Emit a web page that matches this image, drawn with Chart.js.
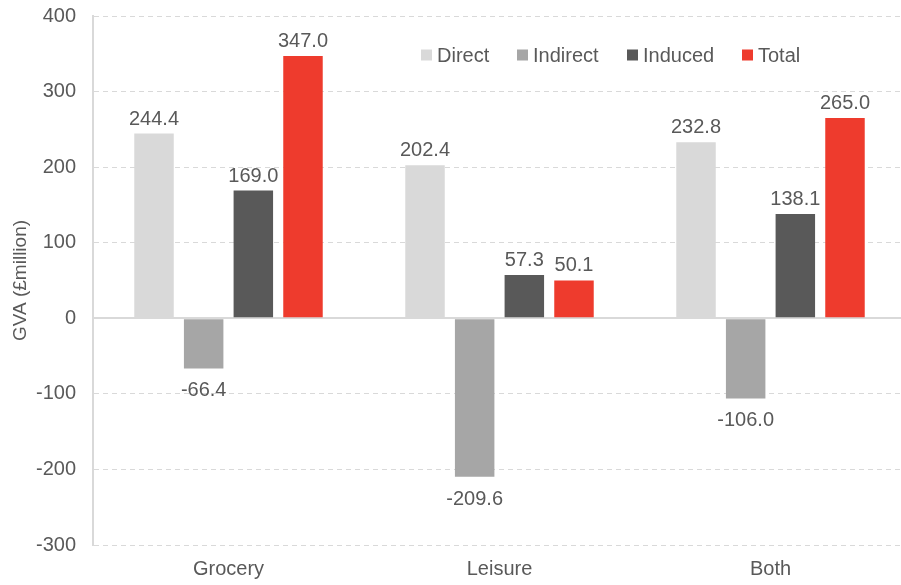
<!DOCTYPE html>
<html>
<head>
<meta charset="utf-8">
<script src="https://cdn.jsdelivr.net/npm/chart.js@4"></script>
<style>
  html, body { margin: 0; padding: 0; background: #fff; overflow: hidden; }
  #wrap { width: 908px; height: 585px; }
</style>
</head>
<body>
<div id="wrap"><canvas id="c"></canvas></div>
<script>
// Datos
var categories = ["Grocery", "Leisure", "Both"];
var direct   = [244.4, 202.4, 232.8];
var indirect = [-66.4, -209.6, -106.0];
var induced  = [169.0, 57.3, 138.1];
var total    = [347.0, 50.1, 265.0];
var seriesNames = ["Direct", "Indirect", "Induced", "Total"];
var colors = ["#d9d9d9", "#a6a6a6", "#595959", "#ee3b2d"];

var TXT = "#595959";
var FONT = "'Liberation Sans', Arial, sans-serif";
var FS = 20;

// ---------- Etiquetas de valor ----------
var valueLabels = {
  id: "valueLabels",
  afterDatasetsDraw: function (chart) {
    var ctx = chart.ctx;
    ctx.save();
    ctx.font = FS + "px " + FONT;
    ctx.fillStyle = TXT;
    ctx.textAlign = "center";
    ctx.textBaseline = "alphabetic";
    chart.data.datasets.forEach(function (ds, i) {
      chart.getDatasetMeta(i).data.forEach(function (bar, j) {
        var v = ds.data[j];
        var y = v >= 0 ? bar.y - 9 : bar.y + 28;
        ctx.fillText(v.toFixed(1), bar.x, y);
      });
    });
    ctx.restore();
  }
};

// ---------- Leyenda dentro del área ----------
var legendX = [421, 517, 627, 742];
var innerLegend = {
  id: "innerLegend",
  afterDraw: function (chart) {
    var ctx = chart.ctx;
    ctx.save();
    ctx.font = FS + "px " + FONT;
    ctx.textBaseline = "middle";
    ctx.textAlign = "left";
    chart.data.datasets.forEach(function (ds, i) {
      var x = legendX[i], y = 55;
      ctx.fillStyle = ds.backgroundColor;
      ctx.fillRect(x, y - 5.5, 11, 11);
      ctx.fillStyle = TXT;
      ctx.fillText(ds.label, x + 16, y + 1);
    });
    ctx.restore();
  }
};

var allSeries = [direct, indirect, induced, total];

new Chart(document.getElementById("c"), {
  type: "bar",
  data: {
    labels: categories,
    datasets: allSeries.map(function (d, i) {
      return {
        label: seriesNames[i],
        data: d,
        backgroundColor: colors[i],
        borderWidth: 0,
        categoryPercentage: 0.733,
        barPercentage: 0.795
      };
    })
  },
  options: {
    responsive: true,
    maintainAspectRatio: false,
    animation: false,
    layout: { padding: { top: 16, right: 2, left: 0, bottom: 0 } },
    plugins: { legend: { display: false }, tooltip: { enabled: false } },
    scales: {
      x: {
        grid: { display: false, drawTicks: false },
        border: { display: false },
        ticks: { color: TXT, font: { family: FONT, size: FS }, padding: 12 },
        afterFit: function (s) { s.height = 40; s.paddingLeft = 0; s.paddingRight = 0; }
      },
      y: {
        min: -300, max: 400,
        ticks: { stepSize: 100, color: TXT, font: { family: FONT, size: FS }, padding: 17 },
        grid: {
          drawTicks: false,
          color: "#d9d9d9",
          lineWidth: function (c) { return c.tick && c.tick.value === 0 ? 2 : 1; }
        },
        border: {
          display: true, color: "#d9d9d9", width: 2,
          dash: function (c) { return c.tick && c.tick.value === 0 ? [] : [5, 4]; }
        },
        title: {
          display: true, text: "GVA (£million)", color: TXT,
          font: { family: FONT, size: 19 }, padding: { top: 9, bottom: 0 }
        },
        afterFit: function (s) { s.width = 93; s.paddingTop = 0; s.paddingBottom = 0; }
      }
    }
  },
  plugins: [valueLabels, innerLegend]
});
</script>
</body>
</html>
